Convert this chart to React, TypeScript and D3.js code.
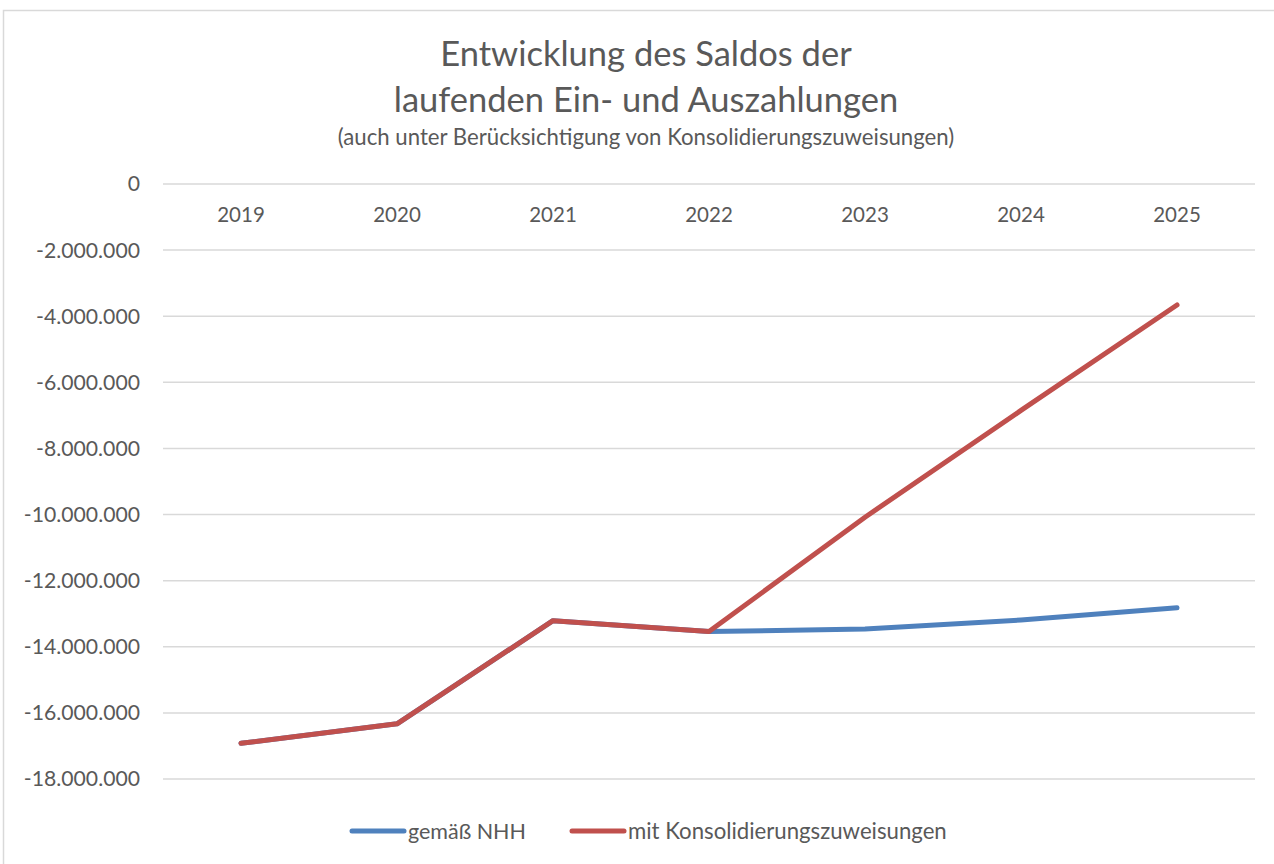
import React from "react";
import * as d3 from "d3";

const years = ["2019", "2020", "2021", "2022", "2023", "2024", "2025"];
const nhh = [-16920000, -16330000, -13210000, -13540000, -13460000, -13190000, -12820000];
const konsol = [-16920000, -16330000, -13210000, -13540000, -10080000, -6850000, -3660000];
const yTicks = [0, -2000000, -4000000, -6000000, -8000000, -10000000, -12000000, -14000000, -16000000, -18000000];
const seriesNames = ["gemäß NHH", "mit Konsolidierungszuweisungen"];
const seriesColors = ["#4f81bd", "#c0504d"];

const W = 1274;
const H = 864;
const FONT = "Lato, 'Open Sans', sans-serif";
const TXT = "#595959";

export default function App() {
  const x = d3.scaleBand<string>().domain(years).range([163, 1255]);
  const y = d3.scaleLinear().domain([-18000000, 0]).range([779, 184]);
  const fmt = (v: number) => d3.format(",")(v).replace(/,/g, ".").replace("−", "-");
  const line = d3
    .line<number>()
    .x((_, i) => (x(years[i]) as number) + x.bandwidth() / 2)
    .y((d) => y(d));

  const series = [nhh, konsol];

  return (
    <svg width={W} height={H} style={{ position: "absolute", left: 0, top: 0, background: "#fff" }} fontFamily={FONT}>
      <rect x={3.5} y={10.5} width={1400} height={1000} fill="#fff" stroke="#d9d9d9" strokeWidth={1.5} />
      <text x={646} y={66} textAnchor="middle" fontSize={34.5} fill={TXT}>Entwicklung des Saldos der</text>
      <text x={646} y={112} textAnchor="middle" fontSize={34.5} fill={TXT}>laufenden Ein- und Auszahlungen</text>
      <text x={646} y={145} textAnchor="middle" fontSize={22.2} fill={TXT}>(auch unter Berücksichtigung von Konsolidierungszuweisungen)</text>

      {yTicks.map((t) => (
        <g key={t}>
          <line x1={163} x2={1255} y1={y(t)} y2={y(t)} stroke="#d9d9d9" strokeWidth={1.5} />
          <text x={140} y={y(t)} dy="0.35em" textAnchor="end" fontSize={21.2} fill={TXT}>{fmt(t)}</text>
        </g>
      ))}

      {years.map((yr) => (
        <text key={yr} x={(x(yr) as number) + x.bandwidth() / 2} y={215} dy="0.35em" textAnchor="middle" fontSize={20.5} fill={TXT}>{yr}</text>
      ))}

      {series.map((s, i) => (
        <path key={i} d={line(s) as string} fill="none" stroke={seriesColors[i]} strokeWidth={5} strokeLinecap="round" strokeLinejoin="round" />
      ))}

      <g>
        <line x1={352} x2={404} y1={831} y2={831} stroke={seriesColors[0]} strokeWidth={5} strokeLinecap="round" />
        <text x={408} y={831} dy="0.35em" fontSize={21.5} fill={TXT}>{seriesNames[0]}</text>
        <line x1={572} x2={624} y1={831} y2={831} stroke={seriesColors[1]} strokeWidth={5} strokeLinecap="round" />
        <text x={628} y={831} dy="0.35em" fontSize={22.2} fill={TXT}>{seriesNames[1]}</text>
      </g>
    </svg>
  );
}
